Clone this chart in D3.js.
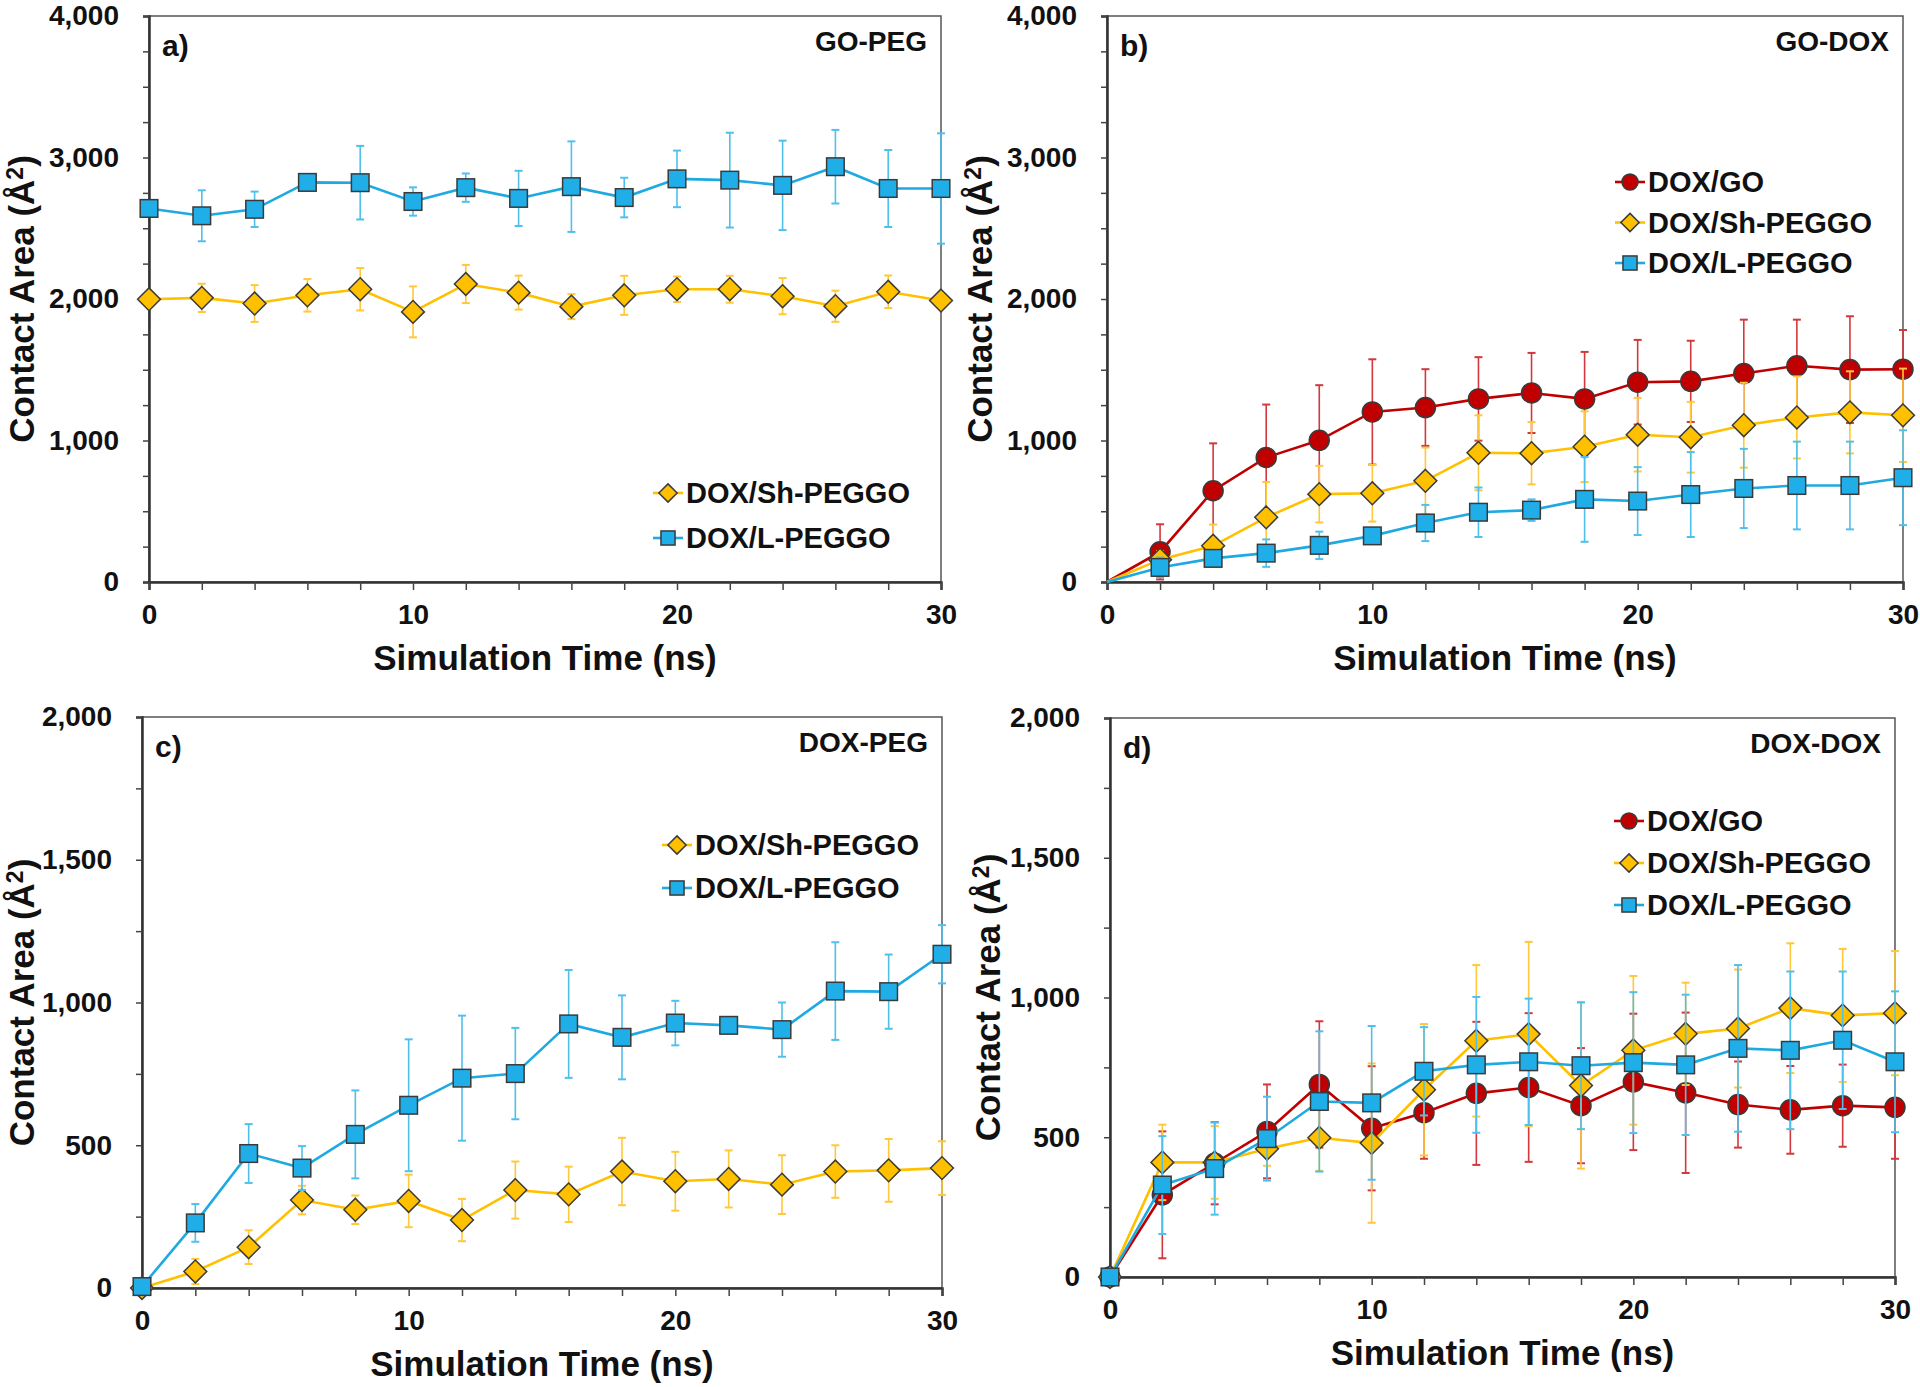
<!DOCTYPE html>
<html>
<head>
<meta charset="utf-8">
<script src="https://cdn.jsdelivr.net/npm/d3@7"></script>
<style>
  html, body { margin: 0; padding: 0; background: #fff; }
  svg { display: block; font-family: "Liberation Sans", Arial, sans-serif; font-weight: bold; }
</style>
</head>
<body>
<svg id="chart" width="1920" height="1387"></svg>
<script>
// ---- data ----
const times = [0, 2, 4, 6, 8, 10, 12, 14, 16, 18, 20, 22, 24, 26, 28, 30];
const xTickLabels = [0, 10, 20, 30];
const yTicksAB = [0, 1000, 2000, 3000, 4000];
const yTicksCD = [0, 500, 1000, 1500, 2000];

const seriesNames = ["DOX/GO", "DOX/Sh-PEGGO", "DOX/L-PEGGO"];
const panelLetters = ["a)", "b)", "c)", "d)"];
const panelTitles = ["GO-PEG", "GO-DOX", "DOX-PEG", "DOX-DOX"];

// a) GO-PEG
const aSh    = [1998, 2008, 1968, 2026, 2069, 1909, 2106, 2045, 1946, 2026, 2069, 2069, 2020, 1949, 2051, 1989];
const aShErr = [20, 100, 130, 115, 150, 180, 135, 120, 88, 138, 90, 95, 128, 110, 115, 20];
const aL     = [2640, 2588, 2634, 2824, 2822, 2689, 2787, 2711, 2794, 2717, 2849, 2840, 2803, 2935, 2781, 2781];
const aLErr  = [20, 180, 125, 30, 260, 100, 100, 195, 320, 140, 200, 335, 316, 260, 272, 390];

// b) GO-DOX
const bGO    = [0, 213, 645, 880, 1001, 1202, 1233, 1294, 1336, 1294, 1412, 1418, 1473, 1528, 1501, 1504];
const bGOErr = [0, 195, 335, 374, 390, 372, 271, 295, 283, 332, 299, 287, 381, 326, 377, 277];
const bSh    = [0, 158, 256, 457, 621, 627, 715, 913, 910, 956, 1041, 1023, 1108, 1163, 1199, 1178];
const bShErr = [0, 60, 150, 250, 200, 200, 235, 265, 220, 250, 260, 250, 300, 290, 290, 330];
const bL     = [0, 103, 167, 204, 259, 326, 417, 493, 508, 584, 572, 618, 661, 682, 682, 737];
const bLErr  = [0, 70, 50, 97, 97, 40, 128, 175, 76, 300, 240, 300, 280, 310, 310, 335];

// c) DOX-PEG
const cSh    = [0, 58, 143, 308, 274, 305, 238, 343, 328, 408, 374, 382, 362, 408, 412, 420];
const cShErr = [0, 44, 59, 50, 50, 92, 74, 100, 97, 118, 103, 100, 103, 92, 110, 94];
const cL     = [5, 228, 471, 420, 538, 640, 735, 751, 925, 878, 928, 920, 905, 1040, 1038, 1169];
const cLErr  = [0, 66, 103, 77, 154, 231, 219, 160, 189, 147, 78, 15, 95, 171, 130, 102];

// d) DOX-DOX
const dGO    = [0, 294, 407, 521, 689, 532, 588, 657, 678, 613, 698, 659, 617, 598, 613, 607];
const dGOErr = [0, 227, 147, 168, 226, 222, 165, 256, 266, 206, 244, 287, 154, 157, 147, 184];
const dSh    = [0, 410, 410, 459, 498, 479, 670, 845, 869, 685, 811, 870, 889, 962, 936, 944];
const dShErr = [0, 135, 130, 61, 118, 285, 235, 271, 330, 297, 266, 183, 211, 232, 238, 222];
const dL     = [0, 329, 388, 495, 628, 623, 736, 759, 770, 756, 767, 759, 818, 811, 847, 770];
const dLErr  = [0, 175, 165, 150, 251, 275, 158, 243, 226, 227, 252, 251, 298, 282, 246, 252];

// ---- styles ----
const styles = {
  GO: { line: "#C00000", fill: "#C00000", err: "#D2383C", shape: "circle" },
  Sh: { line: "#FFC000", fill: "#FFC000", err: "#FFC83A", shape: "diamond" },
  L:  { line: "#1FA9E1", fill: "#1FAEE8", err: "#4FC0EC", shape: "square" }
};

const panels = [
  { x0: 149, x1: 941, y0: 16, y1: 582, yMax: 4000, yTicks: yTicksAB, yStep: 250,
    series: [{ key: "Sh", name: seriesNames[1], v: aSh, e: aShErr }, { key: "L", name: seriesNames[2], v: aL, e: aLErr }],
    legend: { x: 668, y: 493, dy: 45 }, yTitleOff: 127, skipZero: false },
  { x0: 1107, x1: 1903, y0: 16, y1: 582, yMax: 4000, yTicks: yTicksAB, yStep: 250,
    series: [{ key: "GO", name: seriesNames[0], v: bGO, e: bGOErr }, { key: "Sh", name: seriesNames[1], v: bSh, e: bShErr }, { key: "L", name: seriesNames[2], v: bL, e: bLErr }],
    legend: { x: 1630, y: 182, dy: 40.5 }, yTitleOff: 127, skipZero: true },
  { x0: 142, x1: 942, y0: 717, y1: 1288, yMax: 2000, yTicks: yTicksCD, yStep: 250,
    series: [{ key: "Sh", name: seriesNames[1], v: cSh, e: cShErr }, { key: "L", name: seriesNames[2], v: cL, e: cLErr }],
    legend: { x: 677, y: 845, dy: 43 }, yTitleOff: 120, skipZero: false },
  { x0: 1110, x1: 1895, y0: 718, y1: 1277, yMax: 2000, yTicks: yTicksCD, yStep: 250,
    series: [{ key: "GO", name: seriesNames[0], v: dGO, e: dGOErr }, { key: "Sh", name: seriesNames[1], v: dSh, e: dShErr }, { key: "L", name: seriesNames[2], v: dL, e: dLErr }],
    legend: { x: 1629, y: 821, dy: 42 }, yTitleOff: 122, skipZero: false }
];

const svg = d3.select("#chart");

function drawMarker(g, shape, cx, cy, size, st) {
  if (shape === "circle") {
    g.append("circle").attr("cx", cx).attr("cy", cy).attr("r", size / 2)
      .attr("fill", st.fill).attr("stroke", "#3a3a3a").attr("stroke-width", 1.5);
  } else if (shape === "square") {
    const s = size * 0.88;
    g.append("rect").attr("x", cx - s / 2).attr("y", cy - s / 2).attr("width", s).attr("height", s)
      .attr("fill", st.fill).attr("stroke", "#3a3a3a").attr("stroke-width", 1.5);
  } else {
    const r = size * 0.57;
    g.append("path").attr("d", `M${cx},${cy - r}L${cx + r},${cy}L${cx},${cy + r}L${cx - r},${cy}Z`)
      .attr("fill", st.fill).attr("stroke", "#3a3a3a").attr("stroke-width", 1.5);
  }
}

panels.forEach((p, i) => {
  const g = svg.append("g");
  const x = d3.scaleLinear().domain([0, 30]).range([p.x0, p.x1]);
  const y = d3.scaleLinear().domain([0, p.yMax]).range([p.y1, p.y0]);

  // frame (top + right)
  g.append("rect").attr("x", p.x0).attr("y", p.y0).attr("width", p.x1 - p.x0).attr("height", p.y1 - p.y0)
    .attr("fill", "none").attr("stroke", "#555").attr("stroke-width", 1.5);

  // y axis
  const yAll = d3.range(0, p.yMax + 1, p.yStep);
  const yAxis = d3.axisLeft(y).tickValues(yAll).tickSize(6).tickPadding(24)
    .tickFormat(d => p.yTicks.includes(d) ? d3.format(",")(d) : "");
  const ya = g.append("g").attr("transform", `translate(${p.x0},0)`).call(yAxis);
  ya.select(".domain").attr("stroke", "#333").attr("stroke-width", 2.5);
  ya.selectAll(".tick line").attr("stroke", "#444").attr("stroke-width", 1.5);
  ya.selectAll(".tick text").attr("font-size", 28).attr("font-family", "'Liberation Sans', Arial, sans-serif")
    .attr("font-weight", "bold").attr("fill", "#111");

  // x axis
  const xAxis = d3.axisBottom(x).tickValues(times).tickSize(8).tickPadding(14)
    .tickFormat(d => xTickLabels.includes(d) ? d : "");
  const xa = g.append("g").attr("transform", `translate(0,${p.y1})`).call(xAxis);
  xa.select(".domain").attr("stroke", "#333").attr("stroke-width", 2.5);
  xa.selectAll(".tick line").attr("stroke", "#444").attr("stroke-width", 1.5);
  xa.selectAll(".tick text").attr("font-size", 28).attr("font-family", "'Liberation Sans', Arial, sans-serif")
    .attr("font-weight", "bold").attr("fill", "#111");

  // axis titles
  g.append("text").attr("x", (p.x0 + p.x1) / 2).attr("y", p.y1 + 88)
    .attr("text-anchor", "middle").attr("font-size", 35).attr("fill", "#111")
    .text("Simulation Time (ns)");
  const yt = g.append("text")
    .attr("transform", `translate(${p.x0 - p.yTitleOff},${(p.y0 + p.y1) / 2}) rotate(-90)`)
    .attr("text-anchor", "middle").attr("font-size", 35).attr("fill", "#111").attr("dy", "0.35em");
  yt.append("tspan").text("Contact Area (Å");
  yt.append("tspan").attr("font-size", 23).attr("dy", "-0.5em").text("2");
  yt.append("tspan").attr("dy", "0.33em").text(")");

  // panel labels
  g.append("text").attr("x", p.x0 + 13).attr("y", p.y0 + 40).attr("font-size", 30).attr("fill", "#111")
    .text(panelLetters[i]);
  g.append("text").attr("x", p.x1 - 14).attr("y", p.y0 + 35).attr("text-anchor", "end")
    .attr("font-size", 28).attr("fill", "#111").text(panelTitles[i]);

  // series
  p.series.forEach(s => {
    const st = styles[s.key];
    const pts = times.map((t, j) => ({ t, v: s.v[j], e: s.e[j] }));
    const sg = g.append("g");
    // error bars
    pts.forEach(d => {
      if (!d.e) return;
      const cx = x(d.t), yt1 = y(d.v + d.e), yb = y(Math.max(0, d.v - d.e));
      sg.append("line").attr("x1", cx).attr("x2", cx).attr("y1", yt1).attr("y2", yb)
        .attr("stroke", st.err).attr("stroke-width", 1.6);
      [yt1, yb].forEach(yy => sg.append("line").attr("x1", cx - 4).attr("x2", cx + 4).attr("y1", yy).attr("y2", yy)
        .attr("stroke", st.err).attr("stroke-width", 2));
    });
    // line
    sg.append("path").datum(pts)
      .attr("d", d3.line().x(d => x(d.t)).y(d => y(d.v)))
      .attr("fill", "none").attr("stroke", st.line).attr("stroke-width", 2.6);
    // markers
    pts.forEach(d => {
      if (p.skipZero && d.t === 0) return;
      drawMarker(sg, st.shape, x(d.t), y(d.v), 20, st);
    });
  });

  // legend
  p.series.forEach((s, k) => {
    const st = styles[s.key];
    const ly = p.legend.y + k * p.legend.dy;
    const lg = g.append("g");
    lg.append("line").attr("x1", p.legend.x - 15).attr("x2", p.legend.x + 15).attr("y1", ly).attr("y2", ly)
      .attr("stroke", st.line).attr("stroke-width", 2.6);
    drawMarker(lg, st.shape, p.legend.x, ly, 16, st);
    lg.append("text").attr("x", p.legend.x + 18).attr("y", ly).attr("dy", "0.36em")
      .attr("font-size", 29).attr("fill", "#111").text(s.name);
  });
});
</script>
</body>
</html>
